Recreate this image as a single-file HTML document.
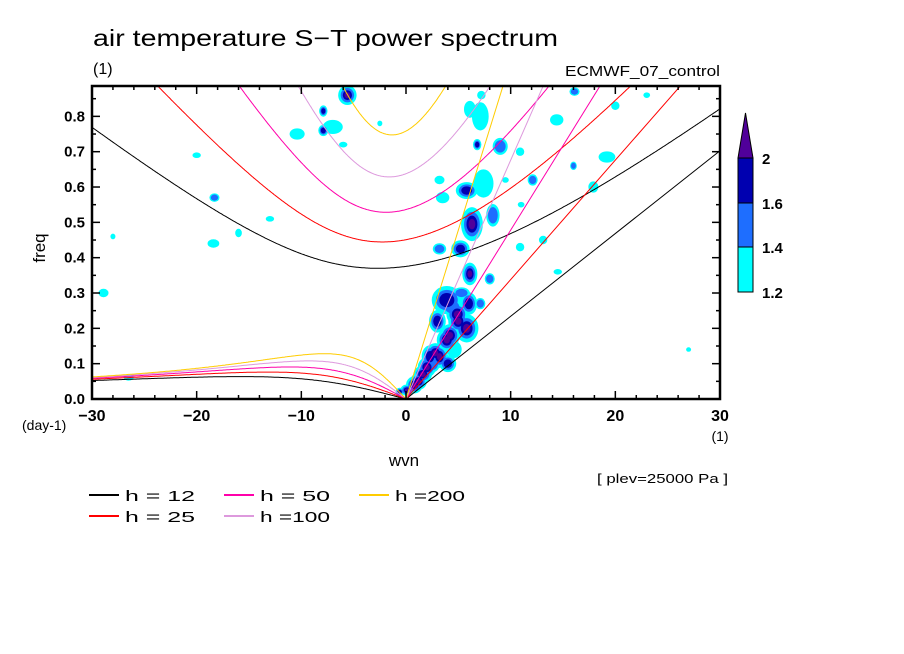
<!DOCTYPE html>
<html><head><meta charset="utf-8"><style>
body{margin:0;background:#fff}
svg{display:block;font-family:"Liberation Sans",sans-serif}
</style></head><body>
<svg id="chart" width="904" height="654" viewBox="0 0 904 654">
<defs><clipPath id="pc"><rect x="92" y="86" width="628" height="313"/></clipPath></defs>
<rect width="904" height="654" fill="#fff"/>
<text x="93" y="46" font-size="23" textLength="465" lengthAdjust="spacingAndGlyphs">air temperature S−T power spectrum</text>
<text x="93" y="74" font-size="16">(1)</text>
<text x="565" y="76" font-size="15" textLength="155" lengthAdjust="spacingAndGlyphs">ECMWF_07_control</text>
<g id="blobs" clip-path="url(#pc)"></g>
<g id="curves" clip-path="url(#pc)"></g>
<g id="axes"></g>
<text x="45" y="248" font-size="17" text-anchor="middle" transform="rotate(-90 45 248)">freq</text>
<text x="22" y="430" font-size="14">(day-1)</text>
<text x="404" y="466" font-size="17" text-anchor="middle">wvn</text>
<text x="720" y="441" font-size="14" text-anchor="middle">(1)</text>
<text x="597" y="483" font-size="13" textLength="131" lengthAdjust="spacingAndGlyphs">[ plev=25000 Pa ]</text>
<g id="legend"></g>
<g id="cbar"></g>
</svg>
<script>
const NS="http://www.w3.org/2000/svg";
const depths=[12,25,50,100,200];
const depthColors=["#000000","#ff0000","#ff00aa","#dd99dd","#ffcc00"];
const depthLabels=["h = 12","h = 25","h = 50","h =100","h =200"];
const xTicks=[-30,-20,-10,0,10,20,30];
const yTicks=[0,0.1,0.2,0.3,0.4,0.5,0.6,0.7,0.8];
const cbarLevels=[1.2,1.4,1.6,2];
const levelColors=["#00ffff","#1e6eff","#0000b0","#50009a"];
// blobs: wavenumber, frequency, half-width (wvn), half-height (freq), level 1-4
const blobWvn=[-5.6,-7.9,-7.9,-7,-10.4,7.1,6.1,14.4,9,6.8,10.9,19.2,5.8,7.4,12.1,6.3,8.3,5.2,3.2,6.1,8,3.5,3.2,10.9,13.1,16,17.9,7.2,
 3.9,4.9,5.8,3,3.9,2.3,3.2,1.6,0.8,0.1,-0.6,2.6,4.4,5.3,7.1,4.6,
 -28.9,-18.3,-18.4,-16,-13,-20,-28,-26.5,27,16.1,20,23,-6,-2.5,11,14.5,9.5,
 1.2,2.0,2.8,4.2,5.0,6.0,4.0];
const blobFreq=[0.86,0.815,0.76,0.77,0.75,0.80,0.82,0.79,0.715,0.72,0.70,0.685,0.59,0.61,0.62,0.495,0.52,0.425,0.425,0.354,0.34,0.57,0.62,0.43,0.45,0.66,0.60,0.86,
 0.28,0.24,0.20,0.22,0.167,0.12,0.12,0.07,0.04,0.025,0.02,0.1,0.26,0.30,0.27,0.14,
 0.30,0.57,0.44,0.47,0.51,0.69,0.46,0.06,0.14,0.87,0.83,0.86,0.72,0.78,0.55,0.36,0.62,
 0.05,0.09,0.13,0.18,0.22,0.27,0.1];
const blobW=[1.1,0.5,0.6,1.2,0.9,1.0,0.7,0.8,0.9,0.5,0.5,1.0,1.3,1.2,0.6,1.3,0.8,1.1,0.8,0.9,0.6,0.8,0.6,0.5,0.5,0.4,0.6,0.5,
 1.8,1.3,1.4,1.0,1.2,1.0,1.0,1.1,1.0,0.8,0.5,0.8,1.2,1.0,0.6,0.9,
 0.6,0.6,0.7,0.4,0.5,0.5,0.3,0.6,0.3,0.6,0.5,0.4,0.5,0.3,0.4,0.5,0.4,
 1.0,1.1,1.1,1.2,1.2,1.0,1.0];
const blobH=[0.035,0.02,0.02,0.025,0.02,0.05,0.03,0.02,0.03,0.02,0.015,0.02,0.03,0.05,0.02,0.06,0.04,0.03,0.02,0.04,0.02,0.02,0.015,0.015,0.015,0.015,0.02,0.015,
 0.05,0.04,0.05,0.04,0.04,0.04,0.04,0.03,0.03,0.02,0.015,0.03,0.03,0.02,0.02,0.03,
 0.015,0.015,0.015,0.015,0.01,0.01,0.01,0.01,0.008,0.015,0.015,0.01,0.01,0.01,0.01,0.01,0.01,
 0.03,0.035,0.035,0.04,0.04,0.04,0.03];
const blobLvl=[4,3,3,1,1,1,1,1,2,3,1,1,3,1,2,4,2,3,2,4,2,1,1,1,1,2,1,1,
 3,4,4,3,4,3,4,4,4,4,3,2,2,2,2,1,
 1,2,1,1,1,1,1,1,1,2,1,1,1,1,1,1,1,
 4,4,4,4,4,3,3];

const X0=92,X1=720,Y0=399,YT=86,FMAX=(399-86)/353.3;
const xs=w=>X0+(w+30)/60*(X1-X0);
const ys=f=>Y0-f*353.3;
function mk(tag,attrs,parent){const e=document.createElementNS(NS,tag);for(const k in attrs)e.setAttribute(k,attrs[k]);parent.appendChild(e);return e;}

// blobs
const gb=document.getElementById('blobs');
const scales=[0.8,0.58,0.4,0.25];
for(let L=0;L<4;L++){
 for(let i=0;i<blobWvn.length;i++){
  if(blobLvl[i]<=L)continue;
  const rx=blobW[i]*10.47*scales[L], ry=blobH[i]*353.3*scales[L];
  const e=mk('ellipse',{cx:xs(blobWvn[i]),cy:ys(blobFreq[i]),rx:rx,ry:ry,fill:levelColors[L]},gb);
  
  
 }
}

// dispersion curves
const g=9.81,a=6.371e6,Om=7.292e-5,beta=2*Om/a;
function roots(kk,c){
 const p=-(c*c*kk*kk+3*beta*c), q=-beta*c*c*kk;
 const m=2*Math.sqrt(-p/3);
 let arg=3*q/(2*p)*Math.sqrt(-3/p); arg=Math.max(-1,Math.min(1,arg));
 const th=Math.acos(arg)/3;
 return [0,1,2].map(j=>m*Math.cos(th-2*Math.PI*j/3)).sort((u,v)=>u-v);
}
const cpd=w=>w*86400/(2*Math.PI);
const gc=document.getElementById('curves');
depths.forEach((h,di)=>{
 const c=Math.sqrt(g*h);
 let ig=[],ro=[];
 for(let s=-30;s<=30.001;s+=0.1){
  const kk=s/a;const r=roots(kk,c);
  ig.push([s,cpd(r[2])]);
  if(s<=0)ro.push([s,cpd(Math.max(0,r[1]))]);
 }
 const path=pts=>pts.map((p,i)=>(i?'L':'M')+xs(p[0]).toFixed(1)+' '+ys(p[1]).toFixed(1)).join('');
 const kel=[[0,0],[30,cpd(c*30/a)]];
 [['ig',ig],['rossby',ro],['kelvin',kel]].forEach(([n,pts])=>{
  const e=mk('path',{d:path(pts),fill:'none',stroke:depthColors[di],'stroke-width':1},gc);
  
  
 });
});

// axes
const ga=document.getElementById('axes');
mk('rect',{x:X0,y:YT,width:X1-X0,height:Y0-YT,fill:'none',stroke:'#000','stroke-width':2.5},ga);
for(let s=-30;s<=30;s+=2){const maj=s%10===0,l=maj?8:4,x=xs(s);
 mk('line',{x1:x,y1:Y0,x2:x,y2:Y0-l,stroke:'#000','stroke-width':1.5},ga);
 mk('line',{x1:x,y1:YT,x2:x,y2:YT+l,stroke:'#000','stroke-width':1.5},ga);}
for(let k=1;k*0.05<FMAX;k++){const f=k*0.05,maj=k%2===0,l=maj?8:4,y=ys(f);
 mk('line',{x1:X0,y1:y,x2:X0+l,y2:y,stroke:'#000','stroke-width':1.5},ga);
 mk('line',{x1:X1,y1:y,x2:X1-l,y2:y,stroke:'#000','stroke-width':1.5},ga);}
xTicks.forEach(t=>{const e=mk('text',{x:xs(t),y:421,'font-size':16,'font-weight':'bold','text-anchor':'middle'},ga);e.textContent=(t<0?'−':'')+Math.abs(t);
 });
yTicks.forEach(t=>{const e=mk('text',{x:85,y:ys(t)+5,'font-size':15,'font-weight':'bold','text-anchor':'end'},ga);e.textContent=t.toFixed(1);
 });

// legend
const gl=document.getElementById('legend');
depths.forEach((h,i)=>{const col=Math.floor(i/2),row=i%2;const x=89+col*135,y=495+row*21;
 const ln=mk('line',{x1:x,y1:y,x2:x+30,y2:y,stroke:depthColors[i],'stroke-width':2},gl);
 
 const t=mk('text',{x:x+36,y:y+6,'font-size':15,textLength:70,lengthAdjust:'spacingAndGlyphs'},gl);t.textContent=depthLabels[i];
 });

// colorbar
const gcb=document.getElementById('cbar');
const boxes=[[247,292,0],[203,247,1],[158,203,2]];
boxes.forEach(b=>{const r=mk('rect',{x:738,y:b[0],width:15,height:b[1]-b[0],fill:levelColors[b[2]],stroke:'#000','stroke-width':1},gcb);
 });
const tri=mk('polygon',{points:'738,158 753,158 745.5,113',fill:levelColors[3],stroke:'#000','stroke-width':1},gcb);

const cbPos=[292,247,203,158];
cbarLevels.forEach((v,i)=>{const t=mk('text',{x:762,y:cbPos[i]+6,'font-size':15,'font-weight':'bold'},gcb);t.textContent=String(v);
 });
</script>
</body></html>
